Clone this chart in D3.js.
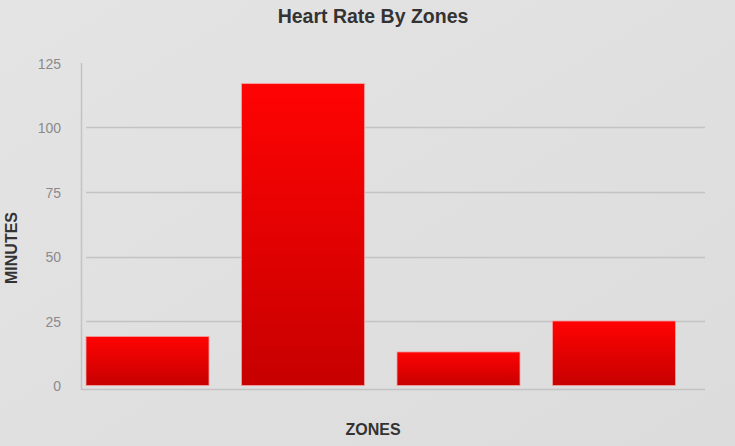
<!DOCTYPE html>
<html>
<head>
<meta charset="utf-8">
<script src="https://cdn.jsdelivr.net/npm/d3@7"></script>
<style>
  html, body { margin: 0; padding: 0; background: #e0dfe0; }
  svg { display: block; }
</style>
</head>
<body>
<div id="chart"></div>
<script>
var zones = ['Zone 1', 'Zone 2', 'Zone 3', 'Zone 4'];
var minutes = [19, 117, 13, 25];
var yTicks = [0, 25, 50, 75, 100, 125];

window.onload = function() {

  var width = 735,
    height = 446;

  var gridColor = '#c3c3c3',
    labelColor = '#8a8a8a',
    titleColor = '#333';

  var svg = d3.select('#chart').append('svg').attr('width', width).attr('height', height);

  var defs = svg.append('defs');

  var bg = defs.append('linearGradient').attr('id', 'bgGrad')
    .attr('x1', 0).attr('y1', 0).attr('x2', 1).attr('y2', 1);
  bg.append('stop').attr('offset', '0%').attr('stop-color', '#e5e4e5');
  bg.append('stop').attr('offset', '100%').attr('stop-color', '#dddcdd');

  var barGrad = defs.append('linearGradient').attr('id', 'barGrad')
    .attr('x1', 0).attr('y1', 0).attr('x2', 0).attr('y2', 1);
  barGrad.append('stop').attr('offset', '0%').attr('stop-color', '#ff0303');
  barGrad.append('stop').attr('offset', '100%').attr('stop-color', '#c70000');

  svg.append('rect')
    .attr('width', width)
    .attr('height', height)
    .attr('fill', 'url(#bgGrad)');

  var x = d3.scaleBand()
    .domain(zones)
    .range([86, 675.5])
    .paddingInner(0.209)
    .paddingOuter(0)
    .align(0);

  var y = d3.scaleLinear()
    .domain([0, 125])
    .range([385.5, 63]);

  // grid lines (skip 0 and 125)
  svg.append('g').selectAll('line')
    .data(yTicks.filter(function(t) { return t > 0 && t < 125; }))
    .enter().append('line')
    .attr('x1', 86)
    .attr('x2', 705)
    .attr('y1', function(d) { return Math.round(y(d)) + 0.5; })
    .attr('y2', function(d) { return Math.round(y(d)) + 0.5; })
    .attr('stroke', gridColor)
    .attr('stroke-width', 1.5);

  // axes lines
  svg.append('line')
    .attr('x1', 81.5).attr('x2', 81.5)
    .attr('y1', 63).attr('y2', 389.5)
    .attr('stroke', gridColor).attr('stroke-width', 1.5);
  svg.append('line')
    .attr('x1', 81).attr('x2', 705)
    .attr('y1', 389.5).attr('y2', 389.5)
    .attr('stroke', gridColor).attr('stroke-width', 1.5);

  // y tick labels
  var yAxis = d3.axisLeft(y).tickValues(yTicks).tickSize(0).tickPadding(0);
  var yg = svg.append('g')
    .attr('transform', 'translate(61,0)')
    .call(yAxis);
  yg.select('.domain').remove();
  yg.selectAll('text')
    .attr('fill', labelColor)
    .attr('font-family', 'Liberation Sans, Arial, sans-serif')
    .attr('font-size', 14)
    .attr('dy', '0.38em');

  // bars
  svg.append('g').selectAll('rect')
    .data(minutes)
    .enter().append('rect')
    .attr('x', function(d, i) { return x(zones[i]); })
    .attr('y', function(d) { return y(d); })
    .attr('width', x.bandwidth())
    .attr('height', function(d) { return y(0) - y(d); })
    .attr('fill', 'url(#barGrad)')
    .attr('stroke', '#f4a0a0')
    .attr('stroke-width', 0.8);

  // title
  svg.append('text')
    .attr('x', 373)
    .attr('y', 23)
    .attr('text-anchor', 'middle')
    .attr('font-family', 'Liberation Sans, Arial, sans-serif')
    .attr('font-weight', 'bold')
    .attr('font-size', 19.5)
    .attr('fill', titleColor)
    .text('Heart Rate By Zones');

  svg.append('text')
    .attr('x', 373)
    .attr('y', 435)
    .attr('text-anchor', 'middle')
    .attr('font-family', 'Liberation Sans, Arial, sans-serif')
    .attr('font-weight', 'bold')
    .attr('font-size', 16)
    .attr('fill', titleColor)
    .text('ZONES');

  svg.append('text')
    .attr('transform', 'translate(17,248) rotate(-90)')
    .attr('text-anchor', 'middle')
    .attr('font-family', 'Liberation Sans, Arial, sans-serif')
    .attr('font-weight', 'bold')
    .attr('font-size', 16)
    .attr('fill', titleColor)
    .text('MINUTES');

}
</script>
</body>
</html>
